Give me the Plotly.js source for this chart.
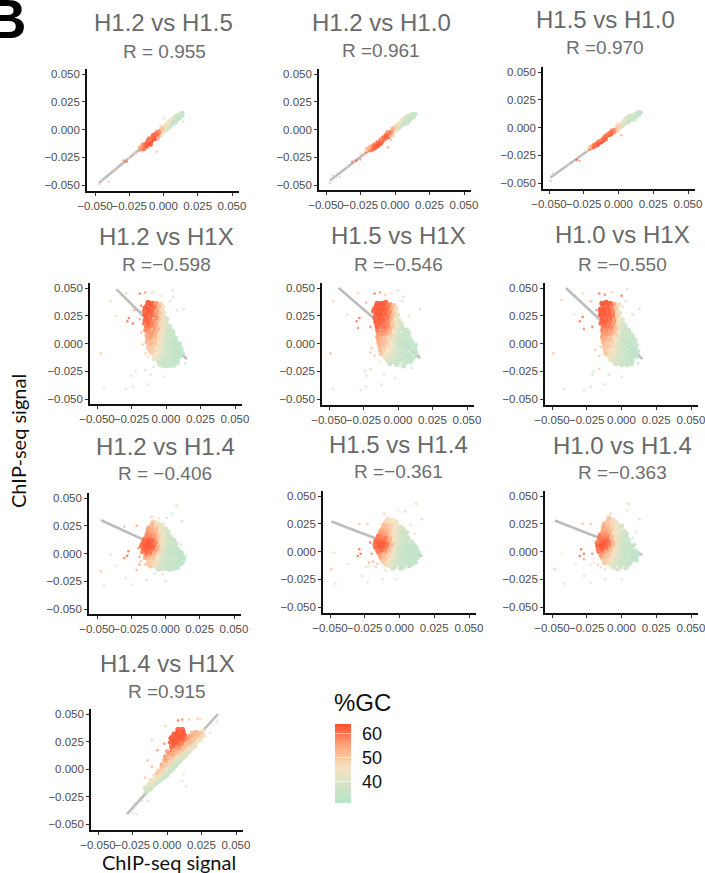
<!DOCTYPE html>
<html><head><meta charset="utf-8">
<script src="https://cdn.plot.ly/plotly-3.0.1.min.js"></script>
<style>html,body{margin:0;padding:0;background:#fff}</style></head>
<body><div id="plot" style="width:705px;height:873px"></div>
<script>
// Values are [signal x * 1000, signal y * 1000, %GC].
const titles = ["H1.2 vs H1.5","H1.2 vs H1.0","H1.5 vs H1.0","H1.2 vs H1X","H1.5 vs H1X","H1.0 vs H1X","H1.2 vs H1.4","H1.5 vs H1.4","H1.0 vs H1.4","H1.4 vs H1X"];
const rLabels = ["R = 0.955","R =0.961","R =0.970","R =\u22120.598","R =\u22120.546","R =\u22120.550","R = \u22120.406","R =\u22120.361","R =\u22120.363","R =0.915"];
const tickValues = [-0.05,-0.025,0,0.025,0.05];
const gcTicks = [40,50,60];

const fit1 = [[-47,-48],[13,13]];
const fit2 = [[-47,-46],[14,13]];
const fit3 = [[-49,-45],[17,14]];
const fit4 = [[-36,49],[15,-14]];
const fit5 = [[-43,50],[16,-13]];
const fit6 = [[-40,50],[15,-14]];
const fit7 = [[-47,30],[13,-4]];
const fit8 = [[-49,27],[16,-4]];
const fit9 = [[-48,28],[15,-3]];
const fit10 = [[-29,-41],[37,50]];

const core1 = [[14,15,34],[13,13,34],[12,12,34],[11,13,35],[11,10,34],[10,11,35],[9,9,35],[9,12,38],[8,10,36],[8,7,34],[7,8,37],[7,5,35],[6,7,37],[5,6,40],[5,4,36],[4,5,42],[4,2,37],[3,4,44],[3,1,38],[2,2,42],[1,2,46],[1,-1,40],[0,0,48],[-1,-2,48],[-2,-1,52],[-2,-4,46],[-3,-3,58],[-4,-5,62],[-4,-3,58],[-5,-5,62],[-6,-7,63],[-6,-4,60],[-7,-8,63],[-7,-6,62],[-8,-10,63],[-8,-7,62],[-9,-9,63],[-9,-12,62],[-10,-11,63],[-10,-9,58],[-11,-13,63],[-11,-10,60],[-12,-14,63],[-12,-12,62],[-13,-15,63],[-13,-13,62],[-14,-16,62],[-15,-15,60],[-16,-17,58],[-15,-18,60]];
const grain1 = [[13,15,35],[14,12,34],[12,14,36],[12,10,34],[10,13,37],[11,9,34],[9,11,38],[10,8,34],[8,12,38],[9,6,34],[7,10,40],[7,6,34],[6,9,42],[6,4,35],[4,8,44],[5,2,36],[3,6,46],[3,0,37],[1,4,48],[2,-1,38],[-1,1,52],[0,-3,42],[-3,-1,56],[-2,-6,48],[-5,-2,60],[-4,-7,55],[-6,-9,62],[-7,-4,60],[-8,-5,62],[-9,-7,60],[-9,-14,62],[-10,-14,63],[-11,-8,60],[-12,-10,60],[-12,-16,62],[-14,-13,62],[-15,-13,58],[-14,-18,60],[-16,-15,56],[-17,-16,54]];
const sparse1 = [[-5,-20,52],[14,7,33],[-27,-29,63],[-29,-28,58],[-20,-22,48],[-22,-21,40],[-25,-26,45],[-35,-37,50],[-47,-49,50],[-40,-47,50],[-45,-46,38],[0,10,48],[-18,-16,56],[-17,-19,58],[-4,-9,54],[-2,3,50],[6,10,44],[12,14,40]];

const core2 = [[15,14,34],[14,13,34],[13,14,35],[13,11,34],[12,12,35],[11,13,36],[11,10,35],[10,11,35],[9,9,35],[9,12,37],[8,10,36],[8,7,35],[7,8,37],[6,9,38],[6,6,36],[5,7,38],[5,4,37],[4,5,42],[3,4,44],[3,1,40],[2,3,46],[1,0,46],[0,1,50],[-1,-2,52],[-2,-1,56],[-2,-4,48],[-3,-3,58],[-4,-5,62],[-5,-3,60],[-5,-7,62],[-6,-6,62],[-7,-8,62],[-8,-9,60],[-8,-7,62],[-9,-11,62],[-10,-10,60],[-11,-13,63],[-12,-12,63],[-13,-15,63],[-14,-14,63],[-15,-16,63],[-16,-15,62],[-16,-18,63],[-17,-16,60],[-18,-18,58],[-20,-17,52],[-19,-19,58]];
const grain2 = [[14,14,35],[14,11,34],[12,14,37],[12,10,34],[10,13,38],[11,8,34],[9,11,38],[10,6,34],[8,12,38],[8,5,34],[7,10,40],[6,4,34],[5,9,42],[4,2,36],[4,7,44],[2,0,38],[2,5,46],[0,-2,44],[0,3,50],[-2,1,54],[-3,-6,50],[-4,-2,58],[-6,-8,60],[-6,-3,58],[-7,-5,62],[-9,-7,60],[-10,-13,62],[-11,-9,58],[-12,-15,63],[-13,-11,60],[-14,-17,62],[-15,-13,60],[-17,-19,60],[-18,-15,54],[-19,-17,52],[-21,-19,48]];
const sparse2 = [[-5,-16,55],[-47,-48,50],[-40,-43,48],[-28,-28,63],[-31,-29,60],[-25,-27,56],[-35,-33,46],[-45,-41,36],[-25,-22,36],[-22,-22,50],[-21,-21,60],[-1,-6,50],[2,6,42],[-6,-1,52],[-3,-9,54],[9,5,44]];

const core3 = [[16,14,34],[15,13,34],[14,12,34],[14,14,36],[13,11,34],[12,10,35],[12,12,36],[11,9,35],[10,10,36],[10,8,35],[9,11,37],[9,7,35],[8,9,36],[7,7,36],[7,10,38],[6,6,36],[5,7,38],[5,4,38],[4,3,40],[3,5,42],[2,2,42],[1,3,46],[1,0,44],[0,-1,48],[-1,1,50],[-2,-3,55],[-3,-2,58],[-4,-4,62],[-5,-3,60],[-5,-6,60],[-6,-5,62],[-7,-7,62],[-8,-6,58],[-9,-9,62],[-10,-8,60],[-10,-11,62],[-11,-10,62],[-12,-13,63],[-13,-12,62],[-14,-14,63],[-15,-13,60],[-15,-16,63],[-16,-15,62],[-17,-17,63],[-18,-16,60],[-19,-18,62],[-20,-19,56]];
const grain3 = [[15,14,35],[15,11,34],[13,13,36],[13,9,34],[11,12,38],[11,7,34],[9,9,36],[8,6,34],[8,11,38],[6,8,40],[6,4,35],[4,7,42],[3,1,38],[3,4,44],[1,2,48],[0,-3,46],[-1,-2,50],[-3,-5,56],[-4,-2,58],[-6,-7,62],[-7,-5,60],[-9,-7,60],[-9,-11,62],[-11,-12,63],[-12,-11,60],[-13,-14,63],[-14,-12,58],[-15,-15,62],[-17,-15,60],[-18,-18,62],[-20,-17,54],[-21,-19,50]];
const sparse3 = [[-49,-48,50],[-47,-41,38],[-36,-33,48],[-30,-29,62],[-28,-30,56],[2,-7,54],[-24,-21,38],[-22,-21,42],[8,3,46],[5,9,36],[-21,-20,60],[-1,4,46],[12,6,40]];

const core4 = [[-13,37,63],[-10,36,62],[-7,36,56],[-4,35,50],[-15,32,63],[-12,31,63],[-9,32,60],[-6,30,53],[-3,31,46],[-15,26,63],[-12,27,62],[-9,26,60],[-6,25,54],[-3,26,47],[-1,23,42],[-15,21,62],[-12,21,62],[-9,20,58],[-6,20,52],[-3,20,46],[0,19,41],[-14,15,60],[-11,16,60],[-8,15,56],[-5,14,50],[-2,15,45],[1,14,38],[3,12,36],[-13,10,56],[-10,9,56],[-7,10,52],[-4,9,46],[-1,9,41],[2,9,37],[5,8,35],[-13,4,54],[-10,4,52],[-7,4,50],[-4,3,46],[-1,4,40],[2,3,36],[5,3,35],[7,2,34],[-12,-1,52],[-9,-1,50],[-6,-2,47],[-3,-2,44],[0,-1,39],[3,-2,36],[6,-2,35],[9,-2,34],[-11,-7,50],[-8,-6,48],[-5,-7,45],[-2,-7,41],[1,-7,37],[4,-6,35],[7,-7,34],[10,-7,34],[-8,-12,45],[-5,-12,42],[-2,-12,39],[1,-13,36],[4,-12,35],[7,-12,34],[10,-11,33],[-5,-17,38],[-1,-17,36],[2,-18,35],[5,-17,34],[8,-17,34],[0,-20,35],[-4,-19,37]];
const grain4 = [[-14,34,63],[-11,34,63],[-8,33,60],[-5,33,52],[-2,33,46],[-16,29,62],[-13,29,63],[-10,29,62],[-7,28,56],[-4,28,50],[-1,28,44],[-14,24,63],[-11,24,62],[-7,23,58],[-4,22,50],[-2,24,44],[1,22,39],[-16,18,60],[-13,18,62],[-10,17,58],[-7,17,54],[-4,17,48],[-1,17,42],[3,16,37],[-15,12,58],[-12,13,58],[-9,12,56],[-6,12,52],[-3,12,46],[0,12,39],[5,11,35],[-14,7,55],[-11,6,56],[-8,7,52],[-5,6,48],[-2,6,42],[1,6,37],[4,6,35],[7,5,34],[-14,1,52],[-11,1,52],[-8,1,50],[-5,1,46],[-2,1,41],[1,1,37],[4,0,35],[7,0,34],[10,0,34],[-13,-4,50],[-10,-4,50],[-7,-4,46],[-4,-4,43],[-1,-4,38],[2,-4,36],[5,-5,35],[8,-5,34],[11,-4,33],[-10,-9,48],[-6,-9,44],[-3,-10,40],[0,-10,37],[3,-9,35],[6,-9,34],[9,-10,34],[12,-9,33],[-9,-14,42],[-6,-15,40],[-3,-15,37],[0,-15,36],[3,-15,35],[6,-15,34],[9,-14,33],[-2,-20,36],[3,-20,34],[6,-20,34]];
const sparse4 = [[-40,38,50],[-47,-9,52],[-36,25,48],[-29,45,50],[-27,23,63],[-28,20,62],[-24,18,62],[-19,45,62],[-15,46,58],[-10,46,50],[-3,43,46],[5,48,36],[5,42,36],[3,38,38],[8,30,36],[13,31,34],[-23,30,54],[-19,22,56],[-18,10,54],[-17,-1,52],[-15,-9,50],[-13,-12,48],[-25,-29,40],[-22,-25,36],[-15,-24,38],[-11,-28,36],[-13,-37,36],[-24,-39,40],[-29,-41,38],[-45,-41,36],[-1,-30,44],[14,-18,33],[12,-6,34],[3,-21,36],[-9,-21,40],[-18,34,62]];

const core5 = [[-15,36,63],[-12,36,63],[-9,37,62],[-6,35,58],[-3,34,50],[-17,31,62],[-14,31,63],[-11,31,63],[-8,31,62],[-5,30,56],[-2,29,47],[-16,26,62],[-13,26,63],[-10,26,62],[-7,25,60],[-4,25,52],[-1,24,44],[-16,20,62],[-13,21,62],[-10,20,62],[-7,20,58],[-4,19,50],[-1,19,44],[2,18,38],[-15,15,62],[-12,15,60],[-9,15,60],[-6,14,56],[-3,14,48],[0,13,40],[3,13,37],[6,12,36],[-14,9,56],[-11,9,56],[-8,9,54],[-5,8,50],[-2,8,43],[1,8,37],[4,7,36],[7,7,35],[-14,3,54],[-11,3,52],[-8,2,50],[-5,3,46],[-2,2,41],[1,2,37],[4,2,35],[7,1,35],[10,1,34],[-13,-3,52],[-10,-3,50],[-7,-3,47],[-4,-4,43],[-1,-3,38],[2,-3,36],[5,-4,35],[8,-3,34],[12,-4,34],[-12,-9,50],[-9,-9,46],[-6,-9,44],[-3,-9,40],[0,-9,37],[3,-9,35],[6,-10,34],[9,-9,34],[13,-9,34],[-8,-14,42],[-5,-14,40],[-2,-15,37],[1,-14,36],[4,-15,35],[7,-14,34],[10,-14,33],[-6,-18,36],[-1,-19,36],[4,-20,35]];
const grain5 = [[-16,34,63],[-13,34,63],[-10,34,63],[-7,33,60],[-4,32,52],[-1,32,44],[-18,29,62],[-15,28,63],[-12,29,63],[-9,28,62],[-6,28,58],[-3,27,50],[0,26,42],[-17,23,62],[-14,23,63],[-11,23,62],[-8,23,60],[-5,22,54],[-2,22,46],[1,21,40],[-16,18,62],[-13,18,62],[-10,17,60],[-7,17,58],[-4,16,50],[-1,16,43],[3,16,37],[-15,12,60],[-12,12,58],[-9,12,58],[-6,11,52],[-3,11,46],[0,11,39],[4,10,36],[8,10,35],[-15,6,56],[-12,6,54],[-9,6,52],[-6,6,48],[-3,5,42],[0,5,38],[3,5,36],[6,4,35],[9,4,34],[-14,0,54],[-11,0,52],[-8,0,49],[-5,-1,45],[-2,0,40],[1,-1,36],[4,-1,35],[7,-1,34],[10,-1,34],[13,-1,33],[-13,-6,52],[-10,-6,48],[-6,-6,45],[-3,-6,41],[0,-6,37],[3,-6,35],[6,-6,34],[10,-6,34],[13,-7,33],[-10,-12,46],[-7,-12,43],[-4,-12,39],[-1,-12,37],[2,-12,35],[5,-12,34],[8,-12,34],[12,-12,33],[-7,-16,40],[-3,-17,37],[1,-17,36],[6,-17,34],[9,-17,33]];
const sparse5 = [[-47,38,50],[-49,-9,54],[-37,26,48],[-29,45,50],[-28,23,63],[-30,20,62],[-29,14,60],[-23,37,54],[-17,45,62],[-13,46,58],[-9,44,50],[-5,45,46],[0,48,38],[4,42,36],[3,38,38],[16,31,34],[-24,-25,36],[-20,-23,50],[-23,-29,36],[-10,-28,36],[-2,-31,38],[-12,-37,36],[-23,-39,38],[-27,-42,38],[-47,-41,36],[10,-22,34],[-20,15,60],[-19,-4,52],[-20,-8,50],[-17,-11,50],[-13,-16,44],[16,-13,34],[8,25,37]];

const core6 = [[-14,36,63],[-11,37,63],[-8,36,62],[-5,35,54],[-2,35,46],[-15,31,63],[-12,31,63],[-9,31,62],[-6,30,58],[-3,30,47],[-15,26,63],[-12,26,63],[-9,25,62],[-6,25,60],[-3,24,48],[-14,20,62],[-11,20,62],[-8,20,60],[-5,19,56],[-2,19,45],[1,18,40],[-13,15,60],[-10,15,60],[-7,14,58],[-4,14,52],[-1,14,43],[2,13,37],[5,12,36],[-13,9,56],[-10,9,56],[-7,9,54],[-4,8,48],[-1,8,41],[2,8,36],[5,7,35],[8,6,35],[-13,3,54],[-10,3,52],[-7,3,50],[-4,2,45],[-1,2,40],[2,2,36],[5,1,35],[8,1,34],[-12,-3,50],[-9,-3,50],[-6,-3,47],[-3,-4,42],[0,-3,38],[3,-4,35],[6,-3,34],[10,-4,34],[-11,-9,50],[-8,-9,47],[-5,-9,44],[-2,-9,40],[1,-9,37],[4,-9,35],[7,-9,34],[10,-9,34],[-8,-14,44],[-5,-14,42],[-2,-14,38],[1,-15,36],[4,-14,35],[7,-14,34],[-4,-18,38],[0,-19,37],[4,-19,35],[7,-18,36]];
const grain6 = [[-13,34,63],[-10,34,63],[-7,34,60],[-4,33,50],[-15,29,63],[-12,28,63],[-9,28,63],[-6,28,58],[-3,27,48],[-1,27,42],[-14,23,63],[-11,23,62],[-8,23,62],[-5,22,56],[-2,22,46],[1,22,40],[-15,18,62],[-12,18,62],[-9,17,60],[-6,17,56],[-3,17,47],[0,16,40],[3,16,37],[-14,12,58],[-11,12,58],[-8,12,56],[-5,11,52],[-2,11,44],[1,11,38],[4,10,36],[7,9,35],[-14,6,56],[-11,6,54],[-8,6,52],[-5,5,47],[-2,5,41],[1,5,37],[4,5,35],[7,4,35],[10,3,34],[-13,0,52],[-10,0,50],[-7,0,48],[-4,-1,44],[-1,-1,38],[2,-1,36],[5,-1,35],[8,-2,34],[11,-1,34],[-12,-6,50],[-9,-6,47],[-6,-6,45],[-3,-6,41],[0,-6,37],[3,-6,35],[6,-7,34],[9,-6,34],[12,-7,33],[-9,-12,46],[-6,-12,43],[-3,-12,39],[0,-12,37],[3,-12,35],[6,-12,34],[9,-12,34],[11,-12,33],[-6,-16,40],[-2,-17,38],[2,-17,36],[5,-17,35],[8,-16,34]];
const sparse6 = [[-43,39,50],[-49,-9,52],[-34,26,46],[-28,45,50],[-28,24,63],[-30,20,62],[-27,13,60],[-21,15,62],[-22,38,54],[-16,45,62],[-12,44,60],[-7,46,50],[0,43,62],[4,49,36],[3,38,38],[1,33,40],[13,31,34],[8,26,36],[-21,-28,36],[-20,-25,36],[-16,-23,50],[-9,-28,36],[0,-30,40],[-12,-37,36],[-22,-39,38],[-27,-42,38],[-41,-41,36],[12,-18,32],[-19,-6,50],[-16,-11,52],[-15,-3,52],[14,-12,34],[-18,30,60]];

const core7 = [[-9,28,50],[-6,27,46],[-12,23,54],[-9,23,52],[-6,23,50],[-3,23,44],[0,22,40],[-13,18,58],[-10,18,56],[-7,18,54],[-4,18,48],[-1,18,44],[2,17,38],[-15,13,60],[-12,13,62],[-9,13,60],[-6,13,54],[-3,13,46],[0,13,40],[3,13,37],[6,12,36],[-17,8,62],[-14,8,63],[-11,8,63],[-8,8,60],[-5,8,52],[-2,8,44],[1,8,38],[4,7,36],[7,7,35],[-16,3,62],[-13,4,63],[-10,4,62],[-7,3,56],[-4,3,50],[-1,3,42],[2,3,37],[5,3,35],[8,2,34],[11,1,34],[-14,-2,58],[-11,-1,56],[-8,-2,50],[-5,-2,46],[-2,-2,40],[1,-2,37],[4,-2,35],[7,-2,34],[10,-3,33],[13,-4,33],[-12,-7,50],[-9,-7,48],[-6,-7,44],[-3,-7,40],[0,-7,37],[3,-7,35],[6,-7,35],[9,-7,34],[12,-8,33],[-11,-11,50],[-7,-11,44],[-4,-11,40],[-1,-12,37],[2,-12,36],[5,-11,35],[8,-12,34],[-5,-14,38],[3,-14,36]];
const grain7 = [[-10,26,52],[-7,25,48],[-4,26,44],[-2,26,42],[-13,21,56],[-10,21,54],[-7,20,52],[-4,20,46],[-1,20,42],[2,20,38],[-14,16,58],[-11,16,58],[-8,16,56],[-5,15,50],[-2,15,44],[1,15,38],[4,15,36],[-16,11,62],[-13,11,63],[-10,11,62],[-7,10,58],[-4,10,48],[-1,10,42],[2,10,37],[5,10,35],[8,9,35],[-18,6,60],[-15,6,63],[-12,6,63],[-9,6,62],[-6,5,54],[-3,5,46],[0,5,39],[3,5,36],[6,5,35],[9,4,34],[-17,1,58],[-14,1,62],[-11,1,60],[-8,1,54],[-5,1,48],[-2,0,41],[1,0,37],[4,0,35],[7,0,34],[10,-1,34],[12,0,33],[-15,-4,54],[-12,-4,52],[-9,-4,50],[-6,-5,45],[-3,-4,40],[0,-5,37],[3,-5,35],[6,-4,35],[9,-5,34],[12,-5,33],[-13,-9,50],[-10,-9,48],[-7,-9,44],[-4,-9,40],[-1,-9,37],[2,-9,36],[5,-9,35],[8,-9,34],[11,-10,33],[-6,-13,40],[-2,-14,37],[1,-14,36],[6,-14,35],[9,-13,34]];
const sparse7 = [[8,43,50],[5,36,36],[12,29,34],[1,32,38],[-5,32,42],[-10,33,50],[-47,-16,52],[-45,-29,36],[-40,-1,48],[-36,-11,46],[-30,-4,63],[-27,2,62],[-28,-2,63],[-21,25,56],[-30,24,52],[-24,-28,42],[-29,-22,38],[-14,-24,36],[0,-25,38],[-21,-15,54],[-19,-10,56],[-18,-7,52],[-20,5,58],[-19,-3,56],[-15,-10,52],[-8,-18,36],[14,-6,32],[15,-2,33],[11,8,36],[-2,-19,38]];

const core8 = [[-8,29,46],[-5,28,46],[-11,24,52],[-8,24,50],[-5,24,48],[-2,23,44],[1,22,40],[-13,19,54],[-10,19,54],[-7,19,50],[-4,18,46],[-1,18,43],[2,18,38],[5,17,36],[-15,14,60],[-12,14,58],[-9,14,56],[-6,13,50],[-3,13,44],[0,13,39],[3,13,37],[6,12,36],[-17,9,62],[-14,9,63],[-11,9,62],[-8,8,58],[-5,8,50],[-2,8,42],[1,8,37],[4,8,35],[7,7,35],[10,6,34],[-17,4,62],[-14,4,63],[-11,4,62],[-8,3,56],[-5,3,48],[-2,3,41],[1,3,36],[4,3,35],[7,3,35],[10,2,34],[12,1,34],[-15,-1,58],[-12,-1,54],[-9,-1,52],[-6,-2,46],[-3,-2,42],[0,-2,38],[3,-2,35],[6,-2,34],[9,-2,34],[13,-3,33],[-13,-6,52],[-10,-6,50],[-7,-7,46],[-4,-7,42],[-1,-6,38],[2,-7,36],[5,-7,35],[8,-6,34],[11,-7,34],[-10,-11,48],[-7,-11,44],[-4,-11,40],[-1,-11,37],[2,-12,36],[6,-11,35],[9,-11,34],[-5,-15,38],[1,-15,36]];
const grain8 = [[-10,27,48],[-7,27,46],[-4,26,46],[-2,27,42],[-12,22,52],[-9,21,52],[-6,21,48],[-3,21,44],[0,20,40],[3,20,37],[-14,17,56],[-11,16,56],[-8,16,52],[-5,16,47],[-2,16,42],[1,15,38],[4,15,36],[-16,12,60],[-13,11,60],[-10,12,60],[-7,11,54],[-4,11,46],[-1,11,41],[2,10,37],[5,10,36],[9,9,35],[-18,6,60],[-15,6,63],[-12,7,63],[-9,6,60],[-6,6,52],[-3,5,44],[0,6,38],[3,5,35],[6,5,35],[9,4,34],[12,4,34],[-16,1,60],[-13,1,62],[-10,1,58],[-7,1,50],[-4,0,44],[-1,1,39],[2,0,36],[5,0,35],[8,0,34],[11,0,34],[14,-1,33],[-14,-4,56],[-11,-4,52],[-8,-4,48],[-5,-4,43],[-2,-4,39],[1,-5,36],[4,-5,35],[7,-4,34],[10,-5,34],[13,-6,33],[-12,-9,50],[-8,-9,46],[-5,-9,41],[-2,-9,38],[1,-9,36],[4,-9,35],[7,-9,34],[10,-9,34],[12,-10,33],[-8,-13,42],[-3,-14,38],[3,-14,35],[7,-13,34]];
const sparse8 = [[12,43,50],[16,29,34],[-1,37,42],[4,36,36],[-11,34,50],[-49,-16,52],[-46,-29,36],[-47,-1,48],[-37,-11,46],[-29,2,63],[-28,-2,63],[-30,-4,62],[-23,25,52],[-29,25,52],[-23,-28,42],[-27,-22,40],[-12,-25,36],[-2,-25,40],[-21,8,62],[-20,-2,58],[-22,-10,54],[-19,-9,54],[-16,-11,52],[-22,-13,46],[-17,-14,50],[-10,-17,38],[7,-13,34],[11,16,36],[8,24,36],[16,-4,34],[-24,-14,38]];

const core9 = [[-9,30,50],[-6,28,47],[-12,25,52],[-9,25,50],[-6,24,48],[-3,24,44],[0,23,40],[-13,20,54],[-10,20,54],[-7,20,50],[-4,19,46],[-1,19,43],[2,18,38],[-15,15,58],[-12,15,58],[-9,15,56],[-6,14,50],[-3,14,44],[0,14,39],[3,14,37],[-16,10,60],[-13,10,62],[-10,10,62],[-7,9,56],[-4,9,48],[-1,9,42],[2,9,37],[5,8,35],[-17,5,62],[-14,5,63],[-11,5,62],[-8,4,56],[-5,4,48],[-2,4,41],[1,4,36],[4,4,35],[7,4,35],[-16,0,60],[-13,0,58],[-10,0,54],[-7,0,48],[-4,-1,44],[-1,-1,38],[2,-1,35],[5,0,35],[8,-1,34],[11,-1,34],[-14,-5,54],[-11,-5,50],[-8,-5,48],[-5,-6,44],[-2,-6,40],[1,-5,37],[4,-6,35],[7,-5,34],[10,-6,34],[-12,-10,50],[-9,-10,46],[-6,-10,42],[-3,-10,39],[0,-10,37],[3,-11,36],[6,-10,35],[-6,-14,38],[-1,-14,38]];
const grain9 = [[-10,27,50],[-7,27,47],[-4,27,44],[-13,23,54],[-10,22,52],[-7,22,48],[-4,22,45],[-1,21,41],[-14,17,56],[-11,17,56],[-8,18,52],[-5,17,46],[-2,16,42],[1,16,38],[4,16,36],[-16,13,60],[-13,12,60],[-10,12,60],[-7,12,52],[-4,12,46],[-1,12,40],[2,12,37],[5,11,35],[-18,8,58],[-15,7,63],[-12,7,63],[-9,7,60],[-6,7,52],[-3,6,44],[0,7,38],[3,6,36],[6,6,35],[9,6,34],[-17,2,60],[-14,2,62],[-11,3,60],[-8,2,52],[-5,2,46],[-2,1,41],[1,1,36],[4,2,35],[7,1,34],[10,1,34],[-15,-3,56],[-12,-3,52],[-9,-3,50],[-6,-3,45],[-3,-3,40],[0,-3,37],[3,-3,35],[6,-3,35],[9,-3,34],[12,-3,33],[-13,-8,50],[-10,-8,48],[-7,-8,44],[-4,-8,40],[-1,-8,37],[2,-8,36],[5,-8,35],[8,-8,34],[11,-8,33],[-9,-12,44],[-5,-12,40],[-2,-12,38],[2,-12,36],[5,-12,34],[-3,-16,37],[3,-15,35]];
const sparse9 = [[5,43,50],[4,37,36],[13,29,34],[-8,34,50],[-48,-16,52],[-41,-29,36],[-43,-2,46],[-33,-11,46],[-29,2,63],[-27,-2,63],[-30,-4,62],[-27,-7,56],[-21,-2,60],[-22,25,52],[-28,25,52],[-27,-22,40],[-22,-28,38],[-12,-25,36],[0,-25,40],[-18,7,62],[-20,-10,46],[-17,-12,50],[-15,-14,48],[-22,-12,38],[-12,-16,36],[13,-3,33],[8,12,36],[5,-14,35],[10,18,36]];

const core10 = [[-15,-20,36],[-12,-18,36],[-10,-15,37],[-8,-13,36],[-6,-11,36],[-4,-9,36],[-2,-7,35],[0,-5,35],[2,-2,35],[4,0,35],[6,3,36],[8,6,37],[10,8,38],[12,11,39],[14,13,40],[16,16,41],[18,19,42],[20,21,43],[22,25,44],[24,27,46],[-13,-14,42],[-9,-10,42],[-6,-7,43],[-3,-5,42],[-1,-2,42],[1,1,40],[3,4,41],[5,6,41],[7,9,42],[9,12,44],[11,14,45],[13,17,46],[15,20,47],[17,22,48],[19,25,50],[21,28,50],[23,31,52],[25,33,50],[-6,-2,50],[-3,1,50],[-1,4,50],[0,8,54],[-1,11,56],[2,6,48],[3,10,50],[2,14,58],[4,17,60],[5,13,54],[7,16,52],[6,20,60],[9,19,56],[11,21,56],[8,24,63],[4,24,62],[13,24,58],[6,28,63],[3,28,63],[9,28,63],[12,28,62],[15,26,55],[17,28,54],[7,32,63],[11,32,63],[19,31,54],[21,33,53],[8,36,62],[11,36,62]];
const grain10 = [[-16,-17,38],[-14,-17,40],[-11,-15,42],[-11,-12,44],[-8,-11,42],[-8,-8,46],[-5,-9,40],[-5,-6,46],[-3,-8,36],[-3,-3,48],[-1,-5,37],[-1,-1,46],[1,-3,36],[1,3,48],[3,-1,35],[3,2,42],[5,2,36],[5,9,48],[7,4,36],[7,12,48],[9,7,37],[9,15,50],[11,10,38],[11,17,50],[13,13,40],[13,20,52],[15,15,40],[15,23,52],[17,18,42],[17,25,52],[19,21,43],[19,27,50],[21,24,44],[21,30,50],[23,27,46],[23,33,50],[25,30,48],[26,35,46],[27,30,46],[3,20,62],[5,22,63],[7,22,63],[10,24,63],[11,26,63],[14,28,58],[2,24,62],[5,26,63],[8,30,63],[5,32,63],[10,30,63],[12,34,63],[13,31,62],[8,34,63],[4,30,62],[16,30,55],[18,33,52],[0,16,56],[-2,8,54],[-4,3,52],[1,11,52],[3,14,54],[5,17,54],[7,20,56],[9,23,60],[12,19,50],[14,23,50],[11,24,58],[-7,-4,48],[-9,-6,46],[-12,-10,44]];
const sparse10 = [[-11,26,50],[-1,39,50],[16,45,52],[22,46,50],[8,44,62],[11,45,60],[24,45,50],[-14,8,54],[-7,17,58],[-2,23,60],[14,-16,36],[11,-11,44],[12,-5,42],[-22,-41,38],[-24,-31,40],[-14,-29,38],[-16,-8,52],[-11,2,54],[36,43,36],[31,33,38],[-25,-40,38],[-18,-29,40],[27,34,44],[-4,5,58],[-8,-4,52],[-17,-22,42],[-20,-26,44]];

const cores = [core1,core2,core3,core4,core5,core6,core7,core8,core9,core10];
const grains = [grain1,grain2,grain3,grain4,grain5,grain6,grain7,grain8,grain9,grain10];
const sparses = [sparse1,sparse2,sparse3,sparse4,sparse5,sparse6,sparse7,sparse8,sparse9,sparse10];
const fits = [fit1,fit2,fit3,fit4,fit5,fit6,fit7,fit8,fit9,fit10];

// ---- page geometry (pixels), separate from the data ----
const W = 705, H = 873;
// left axis x, bottom axis y, x-tick -0.05, x-tick 0.05, y-tick 0.05, y-tick -0.05
const frames = [[87,191,95,232,74,185],[319,190,326,464,74,185],[543,189,549,688,72,183],
 [90,404,97,235,288,399],[322,405,329,467,288,399],[545,405,552,691,288,399],
 [89,614,97,234,498,609],[323,613,330,469,496,607],[545,613,552,691,496,607],
 [91,830,98,236,714,824]];
const titlePos = [[163,22],[381,22],[605,19],[166,237],[398,236],[622,235],[165,447],[398,445],[622,446],[167,663]];
const rPos = [[164,51],[381,50],[605,47],[166,264],[398,264],[622,264],[165,474],[398,472],[622,473],[167,691]];
const gcLow = 31, gcHigh = 64;
const gcLabelPos = [[372,782],[372,758],[372,734]];
const colors = [[0,'#b5e5cb'],[0.45,'#f6e2c2'],[0.72,'#ffa67c'],[1,'#ff4f2e']];
const SANS = 'Liberation Sans, Arial, sans-serif';

const pax = (x,y,text,size,color,extra) => Object.assign({xref:'paper',yref:'paper',x:x/W,y:1-y/H,text,showarrow:false,xanchor:'center',yanchor:'middle',font:{size,color,family:SANS}},extra||{});

const traces = [], layout = {width:W,height:H,margin:{l:0,r:0,t:0,b:0},autosize:false,paper_bgcolor:'#fff',plot_bgcolor:'#fff',showlegend:false,annotations:[],font:{family:SANS}};

frames.forEach((f,i)=>{
  const [L,B,xm,xp,yp,ym] = f;
  const R = xp+7, T = yp-5, id = i===0?'':String(i+1);
  const sx = 0.1/(xp-xm), sy = 0.1/(ym-yp);
  const ax = {showgrid:false,zeroline:false,showline:true,linecolor:'#111',linewidth:1.8,ticks:'outside',ticklen:3,tickwidth:1,tickcolor:'#333',tickmode:'array',tickvals:tickValues,ticktext:tickValues.map(v=>(v<0?'\u2212':'')+Math.abs(v).toFixed(3)),tickfont:{size:11.5,color:'#4d4d4d',family:SANS}};
  layout['xaxis'+id] = Object.assign({},ax,{domain:[L/W,R/W],range:[-0.05+(L-xm)*sx,-0.05+(R-xm)*sx],anchor:'y'+id,tickangle:0,ticklabeloverflow:'allow'});
  layout['yaxis'+id] = Object.assign({},ax,{domain:[1-B/H,1-T/H],range:[-0.05-(B-ym)*sy,0.05+(yp-T)*sy],anchor:'x'+id});
  const axes = {xaxis:'x'+id,yaxis:'y'+id};
  traces.push(Object.assign({type:'scatter',mode:'lines',x:fits[i].map(p=>p[0]/1000),y:fits[i].map(p=>p[1]/1000),line:{color:'#bdbdbd',width:2.6},hoverinfo:'skip'},axes));
  const all = [[cores[i], i<3?4:5.4, 0.95],[grains[i], i<3?3.6:4.4, 0.9],[sparses[i], 2.6, 0.75]];
  all.forEach(([pts,size,opacity],k)=>{
    traces.push(Object.assign({type:'scatter',mode:'markers',x:pts.map(p=>p[0]/1000),y:pts.map(p=>p[1]/1000),
      marker:Object.assign({size,opacity,color:pts.map(p=>p[2]),colorscale:colors,cmin:gcLow,cmax:gcHigh,line:{width:0}},
        (i===9&&k===0)?{showscale:true,colorbar:{x:335/W,xanchor:'left',y:1-724/H,yanchor:'top',len:79,lenmode:'pixels',thickness:16,thicknessmode:'pixels',xpad:0,ypad:0,outlinewidth:0,tickmode:'array',tickvals:gcTicks,showticklabels:false,ticks:'inside',ticklen:16,tickwidth:1,tickcolor:'rgba(255,255,255,0.6)'}}:{})},axes));
  });
  layout.annotations.push(pax(titlePos[i][0],titlePos[i][1],titles[i],24,'#696969'));
  layout.annotations.push(pax(rPos[i][0],rPos[i][1],rLabels[i],19,'#6e6e6e'));
});
gcTicks.forEach((v,i)=>layout.annotations.push(pax(gcLabelPos[i][0],gcLabelPos[i][1],String(v),18,'#111')));
layout.annotations.push(pax(6,18,'B',56,'#000',{font:{size:56,color:'#000',family:SANS,weight:700}}));
layout.annotations.push(pax(362,702,'%GC',24,'#111'));
layout.annotations.push(pax(169,862,'ChIP-seq signal',20,'#111',{font:{size:20,color:'#111',family:'Lato, sans-serif'}}));
layout.annotations.push(pax(18,441,'ChIP-seq signal',20,'#111',{textangle:-90,font:{size:20,color:'#111',family:'Lato, sans-serif'}}));
Plotly.newPlot('plot',traces,layout,{displayModeBar:false,staticPlot:true});
</script></body></html>
